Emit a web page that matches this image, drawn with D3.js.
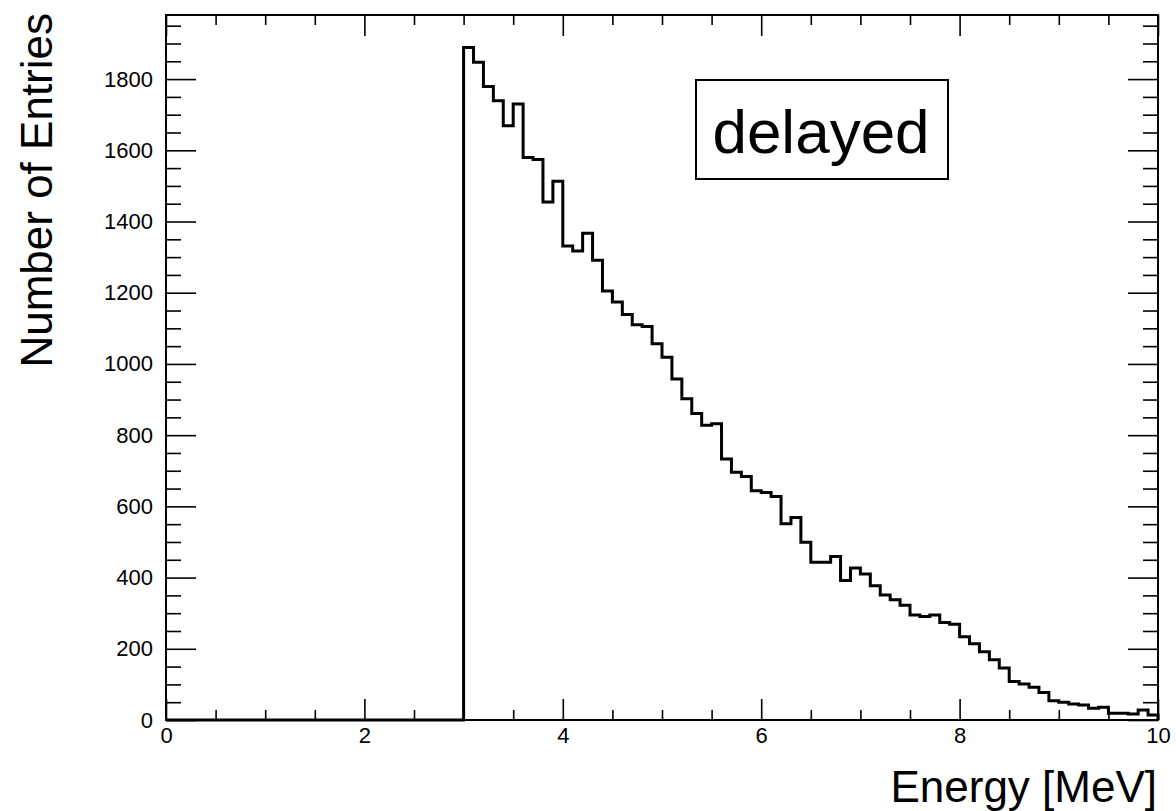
<!DOCTYPE html>
<html>
<head>
<meta charset="utf-8">
<script src="https://cdn.jsdelivr.net/npm/d3@7"></script>
<style>
  body { margin: 0; background: white; }
  text { font-family: "Liberation Sans", Arial, Helvetica, sans-serif; }
</style>
</head>
<body>
<script>
var w = 1176;
var h = 811;

// histogram: 100 bins of 0.1 MeV from 0 to 10
var binLow = 0;
var binWidth = 0.1;
var counts = [
  0, 0, 0, 0, 0, 0, 0, 0, 0, 0,
  0, 0, 0, 0, 0, 0, 0, 0, 0, 0,
  0, 0, 0, 0, 0, 0, 0, 0, 0, 0,
  1889, 1847, 1779, 1739, 1669, 1730, 1580, 1574, 1455, 1513,
  1331, 1317, 1367, 1291, 1205, 1174, 1139, 1110, 1105, 1057,
  1019, 958, 902, 861, 828, 832, 733, 696, 684, 644,
  639, 628, 551, 569, 499, 443, 443, 459, 392, 427,
  410, 377, 351, 338, 322, 295, 291, 295, 274, 269,
  234, 214, 192, 169, 146, 108, 101, 92, 77, 54,
  50, 45, 42, 33, 36, 19, 19, 17, 28, 14
];

var xMajor = [0, 2, 4, 6, 8, 10];
var xMinor = [0.5, 1, 1.5, 2.5, 3, 3.5, 4.5, 5, 5.5, 6.5, 7, 7.5, 8.5, 9, 9.5];
var yMajor = [0, 200, 400, 600, 800, 1000, 1200, 1400, 1600, 1800];
var yMinor = [50, 100, 150, 250, 300, 350, 450, 500, 550, 650, 700, 750, 850, 900, 950,
              1050, 1100, 1150, 1250, 1300, 1350, 1450, 1500, 1550, 1650, 1700, 1750,
              1850, 1900, 1950];

var xTitle = "Energy [MeV]";
var yTitle = "Number of Entries";
var legendText = "delayed";

// frame edges (pixels)
var padL = 166, padR = 1158, padT = 15, padB = 720;

var svg = d3.select("body").append("svg")
          .attr("width", w)
          .attr("height", h);

var x = d3.scaleLinear().domain([0, 10]).range([padL, padR]);
var y = d3.scaleLinear().domain([0, 1980]).range([padB, padT]);

// bottom axis
var xAxisG = svg.append("g")
   .attr("transform", "translate(0," + padB + ")")
   .call(d3.axisBottom(x).tickValues(xMajor).tickSizeInner(-21).tickSizeOuter(0)
           .tickPadding(7).tickFormat(d3.format("d")));
svg.append("g")
   .attr("transform", "translate(0," + padB + ")")
   .call(d3.axisBottom(x).tickValues(xMinor).tickSizeInner(-10).tickSizeOuter(0).tickFormat(""));

// top axis (mirror ticks)
svg.append("g")
   .attr("transform", "translate(0," + padT + ")")
   .call(d3.axisTop(x).tickValues(xMajor).tickSizeInner(-21).tickSizeOuter(0).tickFormat(""));
svg.append("g")
   .attr("transform", "translate(0," + padT + ")")
   .call(d3.axisTop(x).tickValues(xMinor).tickSizeInner(-10).tickSizeOuter(0).tickFormat(""));

// left axis
var yAxisG = svg.append("g")
   .attr("transform", "translate(" + padL + ",0)")
   .call(d3.axisLeft(y).tickValues(yMajor).tickSizeInner(-30).tickSizeOuter(0)
           .tickPadding(13).tickFormat(d3.format("d")));
svg.append("g")
   .attr("transform", "translate(" + padL + ",0)")
   .call(d3.axisLeft(y).tickValues(yMinor).tickSizeInner(-15).tickSizeOuter(0).tickFormat(""));

// right axis (mirror ticks)
svg.append("g")
   .attr("transform", "translate(" + padR + ",0)")
   .call(d3.axisRight(y).tickValues(yMajor).tickSizeInner(-30).tickSizeOuter(0).tickFormat(""));
svg.append("g")
   .attr("transform", "translate(" + padR + ",0)")
   .call(d3.axisRight(y).tickValues(yMinor).tickSizeInner(-15).tickSizeOuter(0).tickFormat(""));

svg.selectAll(".domain").remove();
svg.selectAll(".tick line").attr("stroke", "black").attr("stroke-width", 1.6);
svg.selectAll("g").attr("font-size", null).attr("font-family", null);
svg.selectAll(".tick text")
   .attr("fill", "black")
   .style("font-size", "22px");

// frame box
svg.append("rect")
   .attr("x", padL)
   .attr("y", padT)
   .attr("width", padR - padL)
   .attr("height", padB - padT)
   .attr("fill", "none")
   .attr("stroke", "black")
   .attr("stroke-width", 2);

// histogram outline
var pts = [[binLow, 0]];
counts.forEach(function(c, i) {
  pts.push([binLow + i * binWidth, c]);
  pts.push([binLow + (i + 1) * binWidth, c]);
});
pts.push([binLow + counts.length * binWidth, 0]);

var hist = svg.append("path")
              .datum(pts)
              .attr("d", d3.line().x(function(d) { return x(d[0]); }).y(function(d) { return y(d[1]); }))
              .attr("fill", "none")
              .attr("stroke", "black")
              .attr("stroke-width", 3)
              .attr("stroke-linejoin", "miter");

// legend box
svg.append("rect")
   .attr("x", 696)
   .attr("y", 80)
   .attr("width", 252)
   .attr("height", 99)
   .attr("fill", "white")
   .attr("stroke", "black")
   .attr("stroke-width", 2);
svg.append("text")
   .attr("x", 821)
   .attr("y", 153)
   .attr("text-anchor", "middle")
   .style("font-size", "62px")
   .text(legendText);

// axis titles
svg.append("text")
   .attr("x", 1157)
   .attr("y", 802)
   .attr("text-anchor", "end")
   .style("font-size", "44px")
   .text(xTitle);
svg.append("text")
   .attr("transform", "translate(52,13) rotate(-90)")
   .attr("text-anchor", "end")
   .style("font-size", "44px")
   .text(yTitle);
</script>
</body>
</html>
